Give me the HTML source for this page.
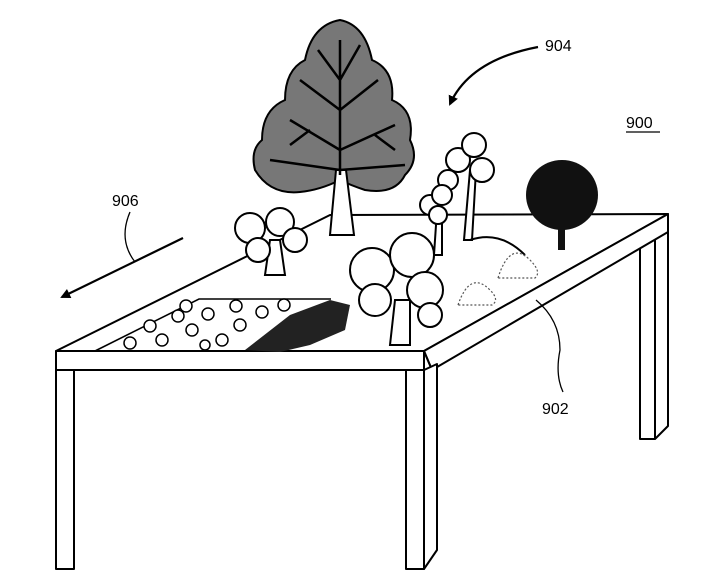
<!DOCTYPE html>
<html><head><style>body{margin:0;background:#fff}svg{display:block}</style></head><body>
<svg width="716" height="588" viewBox="0 0 716 588" xmlns="http://www.w3.org/2000/svg" font-family="Liberation Sans, sans-serif">
<defs>
<marker id="ah" markerWidth="10" markerHeight="10" refX="8" refY="5" orient="auto" markerUnits="userSpaceOnUse"><path d="M0,0 L10,5 L0,10 z" fill="#000"/></marker>
</defs>
<g fill="#fff" stroke="#000" stroke-width="2" stroke-linejoin="round">
<path d="M640,240 L640,439 L655,439 L668,426 L668,228 Z"/>
<line x1="655" y1="439" x2="655" y2="233"/>
<path d="M56,351 L330,215 L668,214 L424,351 Z"/>
<path d="M424,351 L668,214 L668,232 L432,370 Z"/>
<rect x="56" y="351" width="368" height="19"/>
<line x1="424" y1="351" x2="432" y2="370"/>
<rect x="56" y="370" width="18" height="199"/>
<path d="M406,370 L424,370 L424,569 L406,569 Z"/>
<path d="M424,370 L437,364 L437,550 L424,569 Z"/>
</g>
<g fill="none" stroke="#000" stroke-width="1.6">
<path d="M95,351 L199,299 L331,299"/>
</g>
<g fill="#222">
<path d="M245,350 L290,315 L330,300 L350,305 L345,330 L310,345 L280,352 Z"/>
</g>
<g fill="#fff" stroke="#000" stroke-width="1.5">
<circle cx="130" cy="343" r="6"/><circle cx="162" cy="340" r="6"/><circle cx="192" cy="330" r="6"/><circle cx="150" cy="326" r="6"/><circle cx="178" cy="316" r="6"/><circle cx="208" cy="314" r="6"/><circle cx="222" cy="340" r="6"/><circle cx="240" cy="325" r="6"/><circle cx="186" cy="306" r="6"/><circle cx="236" cy="306" r="6"/><circle cx="262" cy="312" r="6"/><circle cx="284" cy="305" r="6"/><circle cx="205" cy="345" r="5"/>
</g>
<!-- big tree -->
<g fill="#777" stroke="#000" stroke-width="2">
<path d="M340,20 Q365,25 372,60 Q395,70 392,100 Q415,110 410,140 Q420,160 405,175 Q395,195 365,190 Q350,185 340,180 Q320,190 300,192 Q270,195 255,170 Q250,150 262,140 Q262,110 285,100 Q285,70 305,60 Q312,25 340,20 Z"/>
</g>
<g stroke="#000" fill="#fff" stroke-width="2">
<path d="M330,235 L336,170 L346,170 L354,235 Z"/>
</g>
<g stroke="#000" stroke-width="2.5" fill="none">
<path d="M340,175 L340,40 M340,150 L290,120 M340,150 L395,125 M340,110 L300,80 M340,110 L378,80 M340,80 L318,50 M340,80 L360,45 M340,170 L270,160 M340,170 L405,165 M310,130 L290,145 M375,135 L395,150"/>
</g>
<g fill="#111"><ellipse cx="562" cy="195" rx="36" ry="35"/><rect x="558" y="220" width="7" height="30"/></g>
<g fill="#fff" stroke="#000" stroke-width="2">
<path d="M464,240 L470,170 L476,170 L472,240 Z"/>
<path d="M434,255 L437,210 L442,210 L442,255 Z"/>
<circle cx="458" cy="160" r="12"/><circle cx="474" cy="145" r="12"/><circle cx="482" cy="170" r="12"/><circle cx="448" cy="180" r="10"/>
<circle cx="430" cy="205" r="10"/><circle cx="442" cy="195" r="10"/><circle cx="438" cy="215" r="9"/>
<path d="M470,240 Q500,230 525,255" fill="none"/>
<path d="M265,275 L270,240 L280,240 L285,275 Z"/>
<circle cx="250" cy="228" r="15"/><circle cx="280" cy="222" r="14"/><circle cx="295" cy="240" r="12"/><circle cx="258" cy="250" r="12"/>
<path d="M390,345 L395,300 L410,300 L410,345 Z"/>
<circle cx="372" cy="270" r="22"/><circle cx="412" cy="255" r="22"/><circle cx="425" cy="290" r="18"/><circle cx="375" cy="300" r="16"/><circle cx="430" cy="315" r="12"/>
</g>
<g fill="none" stroke="#555" stroke-width="1.2" stroke-dasharray="2,2">
<path d="M458,305 Q470,270 490,290 Q500,300 492,305 Z"/>
<path d="M498,278 Q510,240 530,260 Q542,272 535,278 Z"/>
</g>
<g fill="none" stroke="#000" stroke-width="2.2">
<line x1="183" y1="238" x2="62" y2="297" marker-end="url(#ah)"/>
<path d="M538,47 Q470,60 450,104" marker-end="url(#ah)"/>
</g>
<g fill="none" stroke="#000" stroke-width="1.3">
<path d="M130,212 Q118,240 135,262"/>
<path d="M536,300 Q560,320 560,350 Q555,375 563,392"/>
<line x1="626" y1="132" x2="660" y2="132"/>
</g>
<g font-size="16" fill="#000">
<text x="545" y="51">904</text>
<text x="626" y="128">900</text>
<text x="112" y="206">906</text>
<text x="542" y="414">902</text>
</g>
</svg>
</body></html>
